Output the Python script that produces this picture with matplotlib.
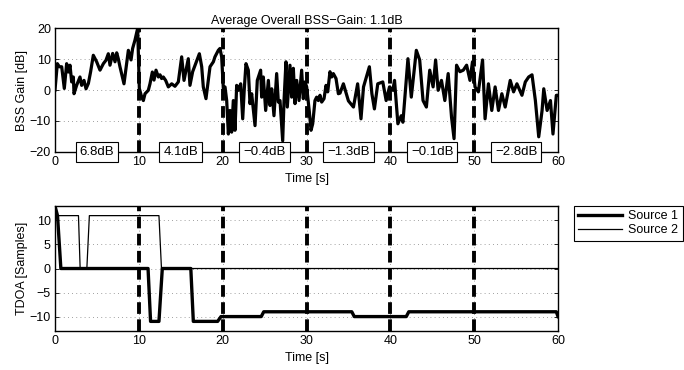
import matplotlib
matplotlib.use("Agg")
import matplotlib.pyplot as plt

plt.rcParams['font.family'] = ['Liberation Sans', 'DejaVu Sans']
plt.rcParams['font.size'] = 9

# BSS gain trace (time [s], gain [dB])
gain_t = [0, 0.28, 0.52, 0.80, 1.11, 1.39, 1.59, 1.79, 1.99, 2.19, 2.27, 2.58, 2.98, 3.18,
          3.46, 3.70, 3.98, 4.25, 4.57, 4.97, 5.37, 5.77, 6.08, 6.36, 6.56, 6.88, 7.16, 7.36,
          7.55, 7.75, 8.23, 8.75, 9.07, 9.26, 9.54, 9.86,
          10.06, 10.34, 10.54, 10.74, 11.13, 11.33, 11.61, 11.81, 12.05, 12.33, 12.53, 12.72,
          12.92, 13.20, 13.52, 13.92, 14.31, 14.71, 15.11, 15.39, 15.71, 15.90, 16.10, 16.42,
          17.22, 17.50, 17.69, 18.01, 18.29, 18.49, 18.89, 19.08, 19.48, 19.68, 19.88,
          20.08, 20.28, 20.48, 20.68, 20.87, 21.07, 21.27, 21.47, 21.67, 21.87, 22.15, 22.39,
          22.58, 22.78, 23.06, 23.26, 23.46, 23.86, 24.13, 24.53, 24.65, 24.85, 25.13, 25.45,
          25.65, 25.85, 26.12, 26.44, 26.64, 26.84, 27.16, 27.32, 27.55, 27.71, 28.03, 28.23,
          28.43, 28.63, 28.83, 29.11, 29.42, 29.62, 29.82,
          30.02, 30.34, 30.54, 30.74, 31.01, 31.21, 31.41, 31.61, 31.81, 32.09, 32.33, 32.53,
          32.80, 33.00, 33.20, 33.52, 33.80, 34.0, 34.4, 35.0, 35.6, 36.1, 36.5, 36.8, 37.5,
          37.8, 38.1, 38.5, 39.1, 39.5, 39.9,
          40.3, 40.5, 40.9, 41.3, 41.5, 42.1, 42.5, 43.1, 43.5, 43.9, 44.3, 44.7, 45.1, 45.4,
          45.7, 46.1, 46.5, 46.9, 47.3, 47.6, 47.9, 48.3, 48.7, 49.1, 49.5, 49.8,
          50.1, 50.5, 51.0, 51.3, 51.7, 52.1, 52.5, 52.9, 53.3, 53.7, 54.3, 54.7, 55.1, 55.7,
          56.1, 56.5, 56.9, 57.3, 57.7, 58.1, 58.3, 58.7, 59.1, 59.4, 59.8, 60.0]
gain_db = [0, 8.5, 7.5, 7.5, 0.5, 8.5, 5.8, 8, 2.6, 4.2, -1.2, 1.5, 4.2, 1.5,
           3.1, 0.4, 2.1, 5.9, 11.2, 9.1, 6.4, 8.5, 9.6, 11.7, 8, 11.8, 9.1, 12,
           10.1, 7.5, 2, 12.8, 9.7, 13.4, 16.1, 19.9,
           0.5, -2.3, -3.4, -1.2, -0.1, 2, 5.8, 3.2, 6.4, 4.2, 4.9, 3.7,
           4.2, 3.1, 1, 2, 1.2, 2.6, 10.7, 3.1, 7.5, 10.1, 1.5, 5.9,
           11.7, 7.5, 1, -2.8, 3.1, 7.5, 9.1, 10.7, 12.8, 13.4, 10.7,
           0.4, 1, -3.4, -14.2, -6.6, -13.6, -3.4, -13, 1.5, -0.1, 2, -9.3,
           0.4, 8.5, 6.4, -4.4, -1.2, -11.5, 3.1, 6.4, -2.3, 4.2, -6.6, 3.1,
           -5, 0.4, -8.3, 5.3, -3.9, -3.4, -16.4, -3.4, 9.1, -5.5, 8, -2.3,
           7, -4.4, 3.1, -3.4, 6.4, -2.8, 2.6,
           1, -7.1, -13, -10.9, -3.4, -2.3, -3.4, -1.7, -3.9, -2.8, 1.5, -0.6,
           5.9, 4.2, 5.3, 3.7, -1.2, -1, 2, -3.5, -5.5, 2, -9.3, 1, 7.5,
           -1.2, -6.1, 2, 2.6, -3.4, 1,
           -0.1, 3.1, -10.9, -8.3, -10.4, 10.1, -2.3, 12.8, 9.7, -3.4, -5.5, 6.4, 1, 9.7,
           -0.1, 3.1, -3.4, 5.3, -8.8, -15.7, 8, 5.9, 6.4, 8, 3.1, 9.1,
           1, -0.6, 9.7, -9.3, 2, -6.6, 1, -6.6, -1.2, -5.5, 3.1, -0.6, 2, -1.7,
           2.6, 4.2, 4.9, -3.4, -15.1, -6.6, 0.4, -6.6, -3.4, -14.2, -1.7, -1.7]

segment_centers = [5, 15, 25, 35, 45, 55]
segment_labels = ['6.8dB', '4.1dB', '\u22120.4dB', '\u22121.3dB', '\u22120.1dB', '\u22122.8dB']
boundaries = [10, 20, 30, 40, 50]

# TDOA tracks
src1_t = [0, 0.3, 0.7, 11.1, 11.4, 12.4, 12.8, 16.2, 16.5, 19.4, 19.8, 24.6, 24.9,
          35.4, 35.7, 41.9, 42.2, 59.8, 60]
src1_v = [13, 11, 0, 0, -11, -11, 0, 0, -11, -11, -10, -10, -9,
          -9, -10, -10, -9, -9, -10]
src2_t = [0, 0.3, 2.8, 3.0, 3.8, 4.1, 12.4, 12.7, 60]
src2_v = [13, 11, 11, 0, 0, 11, 11, 0, 0]

fig = plt.figure(figsize=(6.84, 3.70), dpi=100)
ax1 = fig.add_axes([0.0804, 0.5892, 0.7354, 0.3351])
ax2 = fig.add_axes([0.0804, 0.1054, 0.7354, 0.3378])

grid_kw = dict(color='0.5', linestyle=(0, (1, 4)), linewidth=0.6)

for ax in (ax1, ax2):
    ax.set_xlim(0, 60)
    ax.set_xticks(range(0, 61, 10))
    ax.grid(True, **grid_kw)
    ax.tick_params(direction='in', top=True, right=True, length=3, width=0.6, pad=3)
    for s in ax.spines.values():
        s.set_linewidth(1.0)
    for b in boundaries:
        ax.axvline(b, color='black', linewidth=2.8, linestyle=(0, (3, 1.4)), zorder=4)
    ax.set_xlabel('Time [s]')
    ax.xaxis.set_label_coords(0.5, -0.17)

# top panel
ax1.plot(gain_t, gain_db, color='black', linewidth=2.3, zorder=3)
ax1.set_ylim(-20, 20)
ax1.set_yticks([-20, -10, 0, 10, 20])
ax1.set_yticklabels(['\u221220', '\u221210', '0', '10', '20'])
ax1.set_ylabel('BSS Gain [dB]', labelpad=1)
ax1.set_title('Average Overall BSS\u2212Gain: 1.1dB', fontsize=9, pad=3)
for c, lab in zip(segment_centers, segment_labels):
    ax1.text(c, -20, lab, ha='center', va='center', fontsize=9.5, zorder=5,
             bbox=dict(boxstyle='square,pad=0.3', facecolor='white',
                       edgecolor='black', linewidth=0.8))

# bottom panel
ax2.plot(src1_t, src1_v, color='black', linewidth=2.4, label='Source 1', zorder=3)
ax2.plot(src2_t, src2_v, color='black', linewidth=0.9, label='Source 2', zorder=3)
ax2.set_ylim(-13, 13)
ax2.set_yticks([-10, -5, 0, 5, 10])
ax2.set_yticklabels(['\u221210', '\u22125', '0', '5', '10'])
ax2.set_ylabel('TDOA [Samples]', labelpad=1)
leg = fig.legend(loc='upper left', bbox_to_anchor=(0.839, 0.443), fontsize=9,
                 fancybox=False, edgecolor='black', framealpha=1, borderaxespad=0,
                 handlelength=3.5, borderpad=0.35, labelspacing=0.15, handletextpad=0.5)
leg.get_frame().set_linewidth(0.8)

fig.savefig('out.png', dpi=100)
